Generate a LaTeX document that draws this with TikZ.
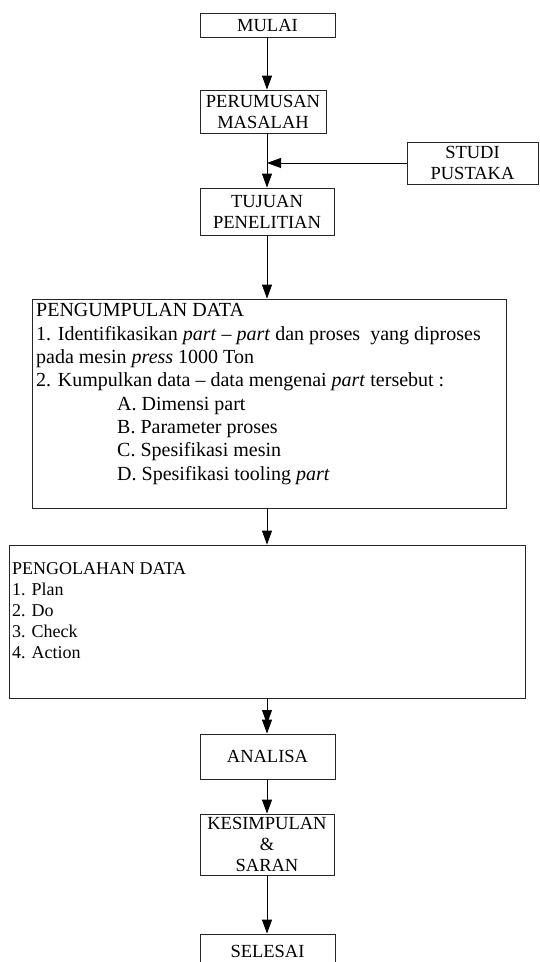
\documentclass[tikz,border=0pt]{standalone}
\usepackage{fontspec}
\setmainfont{Liberation Serif}
\usetikzlibrary{arrows.meta}
\begin{document}
\begin{tikzpicture}[x=1pt,y=-1pt,
  flowbox/.style={draw=black!85, line width=0.8pt, inner sep=0pt, align=center,
    font=\fontsize{18.5}{21}\selectfont},
  bigbox/.style={draw=black!85, line width=0.8pt, inner sep=0pt},
  flow/.style={draw=black, line width=0.8pt, -{Triangle[length=14pt,width=10pt]}},
  listtext/.style={inner sep=0pt, align=left, anchor=north west}]
\useasboundingbox (0,0) rectangle (540,962);
\clip (0,0) rectangle (540,962);

% vertical spine of the flow chart
\coordinate (spine) at (267,0);

% small process boxes
\node[flowbox, minimum width=135pt, minimum height=24pt] (mulai) at (267.5,25) {MULAI};
\node[flowbox, minimum width=126pt, minimum height=43pt] (perumusan) at (263,111.5) {PERUMUSAN\\MASALAH};
\node[flowbox, minimum width=134pt, minimum height=47pt] (tujuan) at (267,211.5) {TUJUAN\\PENELITIAN};
\node[flowbox, minimum width=131pt, minimum height=42pt] (studi) at (472.5,163) {STUDI\\PUSTAKA};

% data collection block
\node[bigbox, minimum width=474pt, minimum height=209pt] (pengumpulan) at (269,403.5) {};
\node[listtext, font=\fontsize{20}{23.3}\selectfont] (pengumpulantext) at (36,303.5)
  {PENGUMPULAN DATA\\
   1. Identifikasikan \textit{part} -- \textit{part} dan proses\ \ yang diproses\\
   pada mesin \textit{press} 1000 Ton\\
   2. Kumpulkan data -- data mengenai \textit{part} tersebut :\\
   \hspace*{81pt}A. Dimensi part\\
   \hspace*{81pt}B. Parameter proses\\
   \hspace*{81pt}C. Spesifikasi mesin\\
   \hspace*{81pt}D. Spesifikasi tooling \textit{part}};

% data processing block
\node[bigbox, minimum width=516pt, minimum height=153pt] (pengolahan) at (267,621.5) {};
\node[listtext, font=\fontsize{18}{21}\selectfont] (pengolahantext) at (12,562)
  {PENGOLAHAN DATA\\
   1. Plan\\
   2. Do\\
   3. Check\\
   4. Action};

\node[flowbox, minimum width=135pt, minimum height=45pt] (analisa) at (267.5,756.5) {ANALISA};
\node[flowbox, minimum width=134pt, minimum height=61pt] (kesimpulan) at (267,844.5) {KESIMPULAN\\\&\\SARAN};
\node[flowbox, minimum width=135pt, minimum height=34pt] (selesai) at (267.5,951) {SELESAI};

% connectors
\coordinate (join) at (267,163);
\coordinate (dbltip) at (267,724);
\draw[flow] (mulai.south -| spine) -- (perumusan.north -| spine);
\draw[flow] (perumusan.south -| spine) -- (tujuan.north -| spine);
\draw[flow] (studi.west) -- (join);
\draw[flow] (tujuan.south -| spine) -- (pengumpulan.north -| spine);
\draw[flow] (pengumpulan.south -| spine) -- (pengolahan.north -| spine);
\draw[flow] (pengolahan.south -| spine) -- (dbltip);
\draw[flow] (pengolahan.south -| spine) -- (analisa.north -| spine);
\draw[flow] (analisa.south -| spine) -- (kesimpulan.north -| spine);
\draw[flow] (kesimpulan.south -| spine) -- (selesai.north -| spine);
\end{tikzpicture}
\end{document}
